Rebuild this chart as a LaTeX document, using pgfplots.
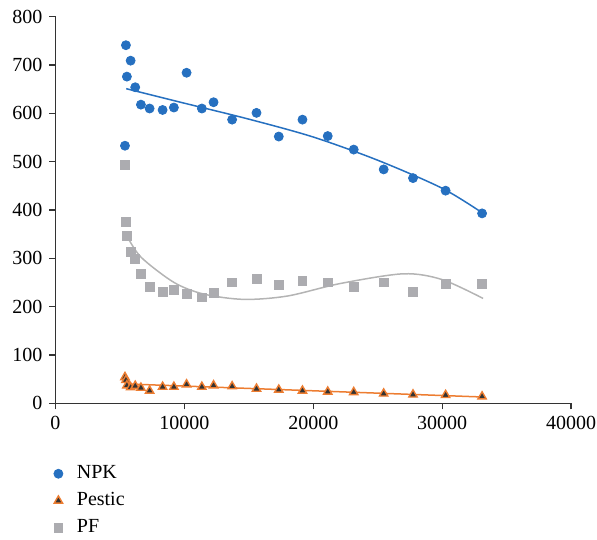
\documentclass[border=0pt]{standalone}
\usepackage{fontspec}
\setmainfont{Liberation Serif}
\usepackage{pgfplots}
\pgfplotsset{compat=1.18}

\definecolor{npkblue}{RGB}{38,112,192}
\definecolor{pestorange}{RGB}{237,125,49}
\definecolor{pfgray}{RGB}{172,172,176}
\definecolor{pfline}{RGB}{180,180,180}

\begin{document}
\begin{tikzpicture}
\path[use as bounding box] (-27.75pt,-67.85pt) rectangle (270.75pt,201.65pt);
\begin{axis}[
    scale only axis,
    width=257.75pt, height=193.3pt,
    at={(0,0)}, anchor=south west,
    xmin=0, xmax=40000,
    ymin=0, ymax=800,
    axis lines*=left,
    axis line style={black!80, line width=0.6pt},
    xtick={0,10000,20000,30000,40000},
    ytick={0,100,...,800},
    tick align=outside,
    major tick length=3pt,
    tick style={black!80, line width=0.6pt},
    tick label style={font=\fontsize{10}{12}\selectfont},
    /pgf/number format/set thousands separator={},
    /pgf/number format/assume math mode=true,
    scaled x ticks=false,
    clip=false,
    legend cell align=left,
    legend style={at={(0,0)}, anchor=north west, yshift=-27pt, xshift=-4pt,
        draw=none, fill=none, font=\fontsize{10}{12}\selectfont,
        row sep=1.4pt},
]
% NPK
\addplot[only marks, mark=*, mark size=2.25pt, color=npkblue] coordinates {
    (5390,533) (5465,741) (5540,676) (5830,709) (6186,654) (6628,618)
    (7302,610) (8310,607) (9186,612) (10170,684) (11357,610) (12264,623)
    (13705,587) (15597,601) (17326,552) (19163,587) (21124,553) (23140,525)
    (25465,484) (27740,466) (30270,440) (33100,393)
};
\addlegendentry{\hspace{5pt}NPK}
% Pestic
\addplot[only marks, mark=triangle*, mark size=2.4pt,
    mark options={draw=pestorange, fill=black!80, line width=0.7pt}] coordinates {
    (5390,54) (5465,48) (5540,37) (5830,33) (6186,36) (6628,32)
    (7302,26) (8310,34) (9186,34) (10170,39) (11357,34) (12264,37)
    (13705,35) (15597,30) (17326,28) (19163,26) (21124,24) (23140,23)
    (25465,20) (27740,18) (30270,17) (33100,14)
};
\addlegendentry{\hspace{5pt}Pestic}
% PF
\addplot[only marks, mark=square*, mark size=2.2pt, color=pfgray] coordinates {
    (5390,493) (5465,376) (5540,346) (5830,313) (6186,299) (6628,268)
    (7302,241) (8310,231) (9186,234) (10170,227) (11357,219) (12264,229)
    (13705,250) (15597,257) (17326,245) (19163,253) (21124,250) (23140,241)
    (25465,250) (27740,230) (30270,247) (33100,247)
};
\addlegendentry{\hspace{5pt}PF}
% trend lines
\addplot[npkblue, line width=0.75pt, smooth, forget plot] coordinates {
    (5490,651) (10000,621) (15000,588) (20000,551) (25000,503) (30000,445) (33180,393)
};
\addplot[pfline, line width=0.75pt, smooth, forget plot] coordinates {
    (5570,345) (6650,302) (9200,250) (11500,226) (14620,215) (18000,222)
    (22120,248) (27000,268) (30000,256) (33180,217)
};
\addplot[pestorange, line width=0.75pt, forget plot] coordinates {
    (5570,40) (33180,13)
};
\end{axis}
\end{tikzpicture}
\end{document}
